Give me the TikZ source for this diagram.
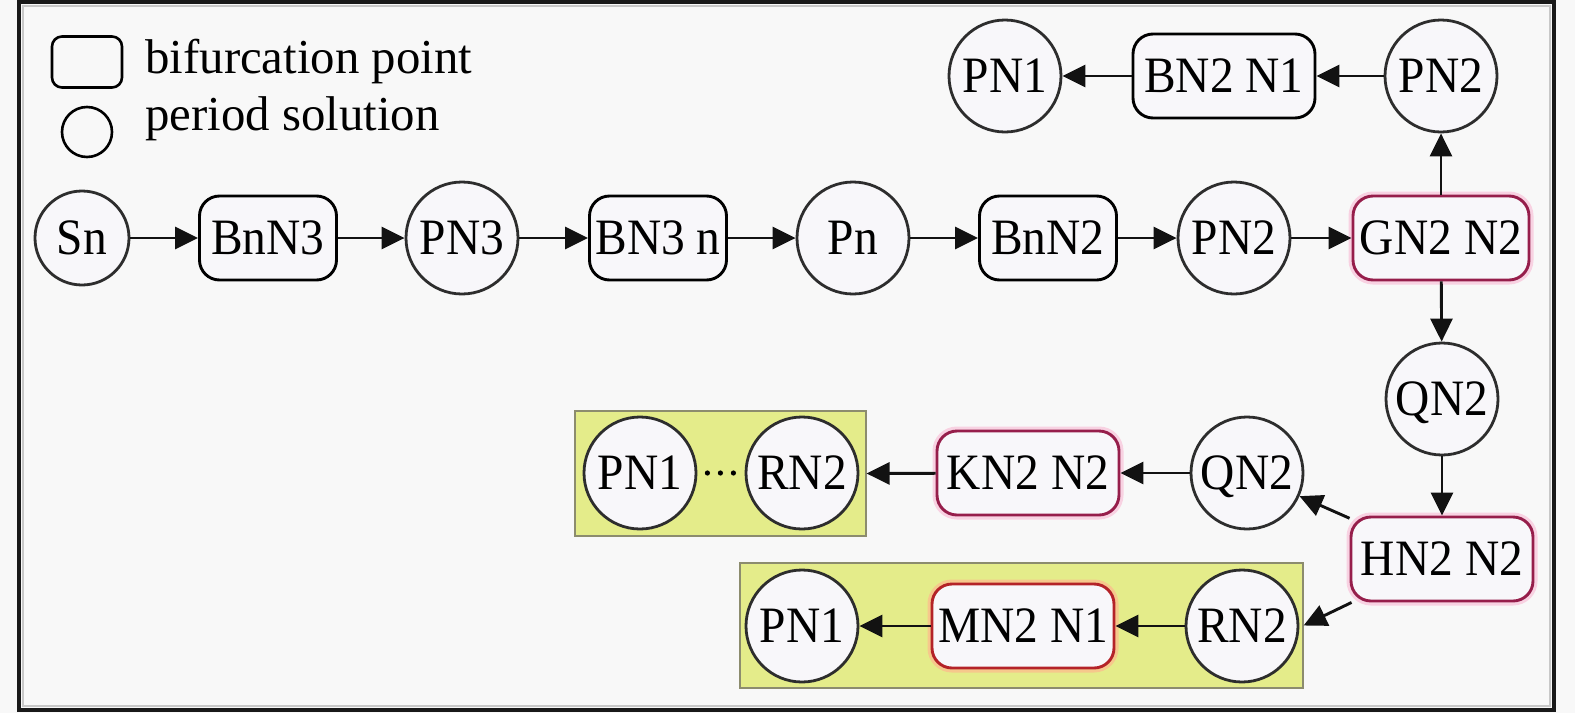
\documentclass[tikz,border=0pt]{standalone}
\usepackage{fontspec}
\setmainfont{Liberation Serif}
\newfontfamily\nodefont[FakeStretch=0.93]{Liberation Serif}
\usetikzlibrary{arrows.meta}
\definecolor{bg}{RGB}{248,248,248}
\definecolor{nodefill}{RGB}{248,247,250}
\definecolor{circgray}{RGB}{45,45,45}
\definecolor{crimson}{RGB}{150,30,75}
\definecolor{pinkglow}{RGB}{248,210,226}
\definecolor{mred}{RGB}{180,35,40}
\definecolor{orangeglow}{RGB}{246,200,140}
\definecolor{clusteryellow}{RGB}{228,236,138}
\definecolor{clusterline}{RGB}{140,140,110}
\definecolor{framegray}{RGB}{200,200,200}
\tikzset{
  ntext/.style={font=\nodefont\fontsize{25.5}{25.5}\selectfont, text height=16.9pt, text depth=0.5pt},
  pcirc/.style={circle, draw=circgray, line width=1.4pt, fill=nodefill, minimum size=56pt, inner sep=0pt, ntext},
  bbox/.style={rectangle, rounded corners=10pt, draw=black, line width=1.45pt, fill=nodefill, minimum width=68.5pt, minimum height=42pt, inner sep=0pt, ntext},
  wbox/.style={bbox, minimum width=91pt},
  redbox/.style={wbox, draw=crimson, preaction={draw=pinkglow, line width=4.5pt}},
  mbox/.style={wbox, draw=mred, preaction={draw=orangeglow, line width=4.5pt}},
  clusterbox/.style={rectangle, draw=clusterline, line width=0.6pt, fill=clusteryellow, inner sep=0pt},
  edge/.style={-{Triangle[length=11.5pt,width=11pt]}, line width=1.45pt, draw=black!93},
  legtext/.style={anchor=base west, inner sep=0pt, font=\fontsize{24.4}{24.4}\selectfont}
}
\begin{document}
\begin{tikzpicture}[x=0.5pt,y=-0.5pt]
\useasboundingbox (0,0) rectangle (1575,713);
\fill[bg] (0,0) rectangle (1575,713);
% frame
\draw[framegray, line width=0.8pt] (23,6) rectangle (1550,706);
\draw[black!90, line width=2pt] (19,1.5) rectangle (1554,710);

% legend
\node[draw=black, line width=1.3pt, rounded corners=5pt, minimum width=35pt, minimum height=25.5pt, inner sep=0pt] (legbox) at (87,62) {};
\node[draw=black, line width=1.3pt, circle, minimum size=25pt, inner sep=0pt] (legcirc) at (87,132) {};
\node[legtext] (legt1) at (145,73) {bifurcation point};
\node[legtext] (legt2) at (145,130) {period solution};

% clusters
\node[clusterbox, minimum width=145.5pt, minimum height=62.5pt] (c1) at (720.5,473.5) {};
\node[clusterbox, minimum width=281.5pt, minimum height=62.5pt] (c2) at (1021.5,625.5) {};

% main row
\node[pcirc, minimum size=47pt] (Sn) at (82,238) {Sn};
\node[bbox] (BnN3) at (268,238) {BnN3};
\node[pcirc] (PN3) at (462,238) {PN3};
\node[bbox] (BN3n) at (658,238) {BN3 n};
\node[pcirc] (Pn) at (853,238) {Pn};
\node[bbox] (BnN2) at (1048,238) {BnN2};
\node[pcirc] (PN2) at (1234,238) {PN2};
\node[redbox, minimum width=88pt] (GN2) at (1441,238) {GN2 N2};

% top row
\node[pcirc] (PN2t) at (1441,76) {PN2};
\node[wbox] (BN2N1) at (1224,76) {BN2 N1};
\node[pcirc] (PN1t) at (1005,76) {PN1};

% right column
\node[pcirc] (QN2r) at (1442,399) {QN2};
\node[redbox] (HN2) at (1442,559) {HN2 N2};

% middle row
\node[pcirc] (QN2l) at (1247,473) {QN2};
\node[redbox] (KN2) at (1028,473) {KN2 N2};
\node[pcirc] (PN1a) at (640,473) {PN1};
\node[pcirc] (RN2a) at (802,473) {RN2};

% bottom row
\node[pcirc] (RN2b) at (1242,626) {RN2};
\node[mbox] (MN2) at (1023,626) {MN2 N1};
\node[pcirc] (PN1b) at (802,626) {PN1};

% edges
\draw[edge] (Sn) -- (BnN3);
\draw[edge] (BnN3) -- (PN3);
\draw[edge] (PN3) -- (BN3n);
\draw[edge] (BN3n) -- (Pn);
\draw[edge] (Pn) -- (BnN2);
\draw[edge] (BnN2) -- (PN2);
\draw[edge] (PN2) -- (GN2);
\draw[edge] (GN2) -- (PN2t);
\draw[edge] (PN2t) -- (BN2N1);
\draw[edge] (BN2N1) -- (PN1t);
\draw[edge] (GN2) -- (QN2r);
\draw[edge] (QN2r) -- (HN2);
\draw[edge] (HN2) -- (QN2l);
\draw[edge] (HN2) -- (c2.east);
\draw[edge] (QN2l) -- (KN2);
\draw[edge] (KN2) -- (c1.east);
\draw[edge] (RN2b) -- (MN2);
\draw[edge] (MN2) -- (PN1b);
\draw[line width=2.6pt, line cap=round, dash pattern=on 0pt off 6.5pt, shorten <=5pt, shorten >=3pt] (PN1a) -- (RN2a);
\end{tikzpicture}
\end{document}
